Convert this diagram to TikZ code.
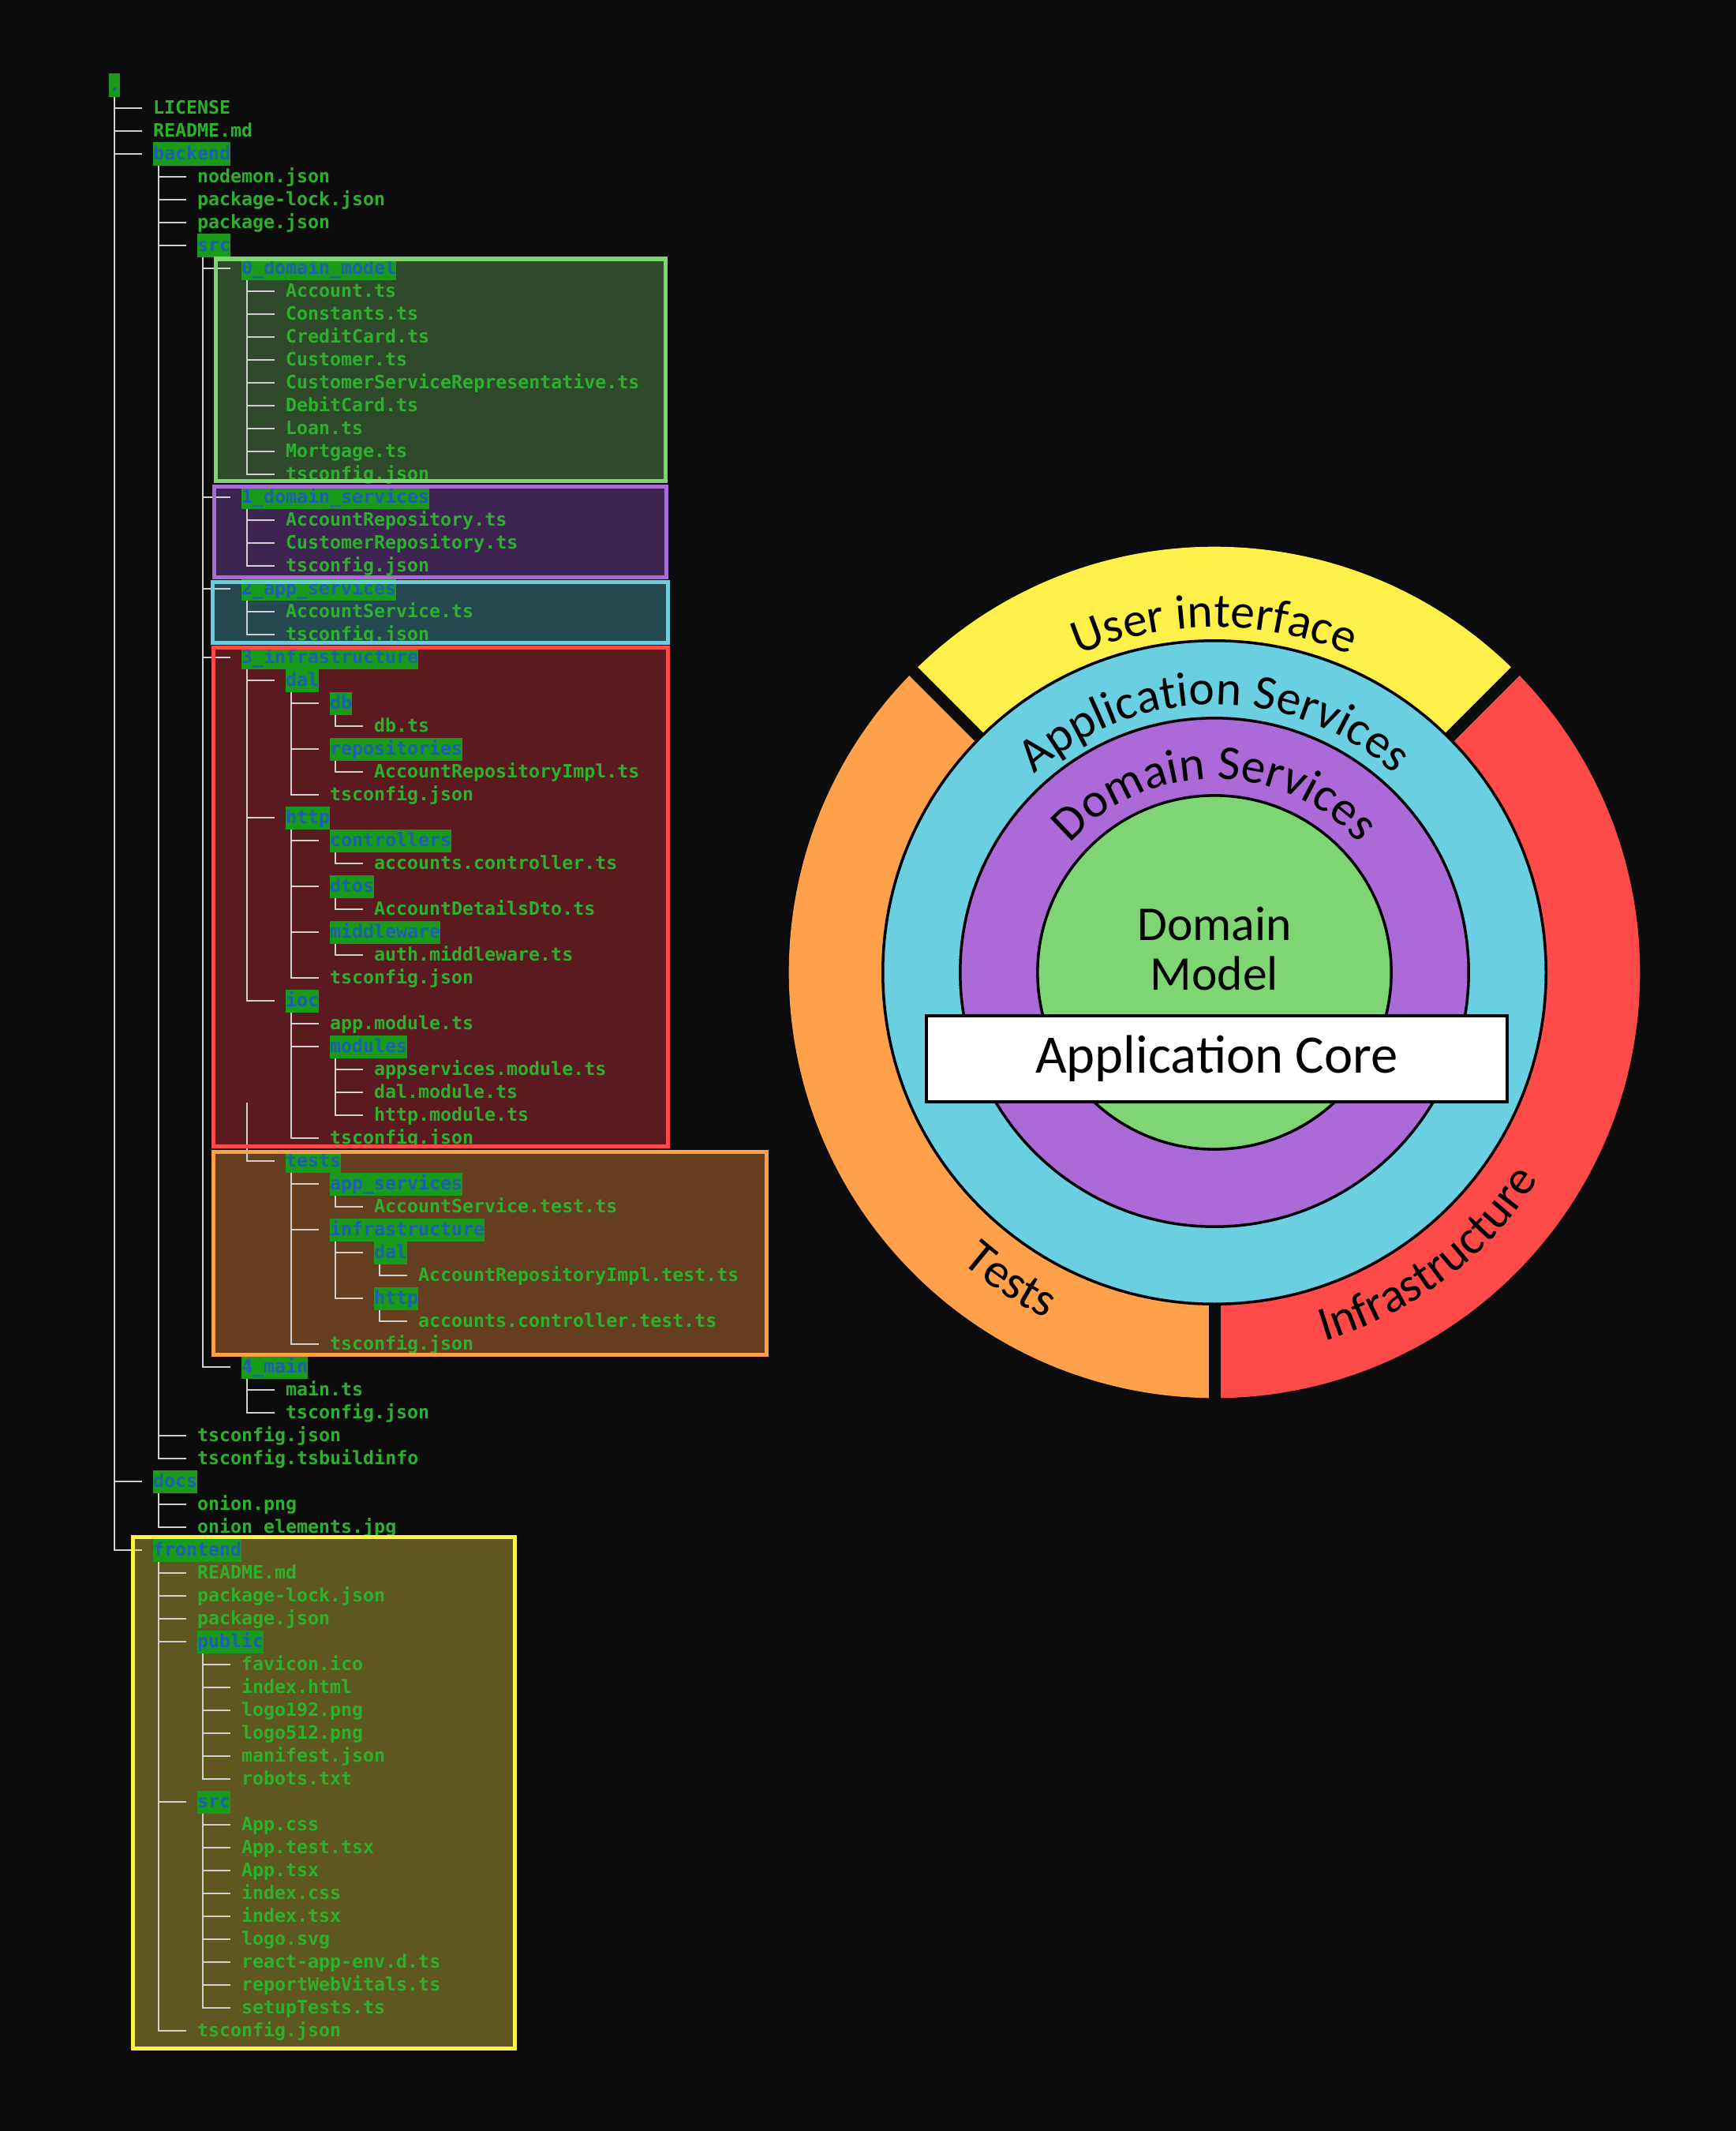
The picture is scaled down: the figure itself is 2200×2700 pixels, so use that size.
\documentclass[tikz,border=0pt]{standalone}
\usepackage{fontspec}
\setmainfont{Carlito}
\setmonofont{DejaVu Sans Mono}
\usetikzlibrary{decorations.text}

\definecolor{bg}{HTML}{0C0C0C}
\definecolor{treeline}{HTML}{D0D0D0}
\definecolor{filegreen}{HTML}{2DB02D}
\definecolor{dirbg}{HTML}{1A9A1A}
\definecolor{dirblue}{HTML}{1F5FAF}
\definecolor{dmfill}{HTML}{2E4A2B}
\definecolor{dmline}{HTML}{7ED673}
\definecolor{dsfill}{HTML}{3E2551}
\definecolor{dsline}{HTML}{A86CD8}
\definecolor{asfill}{HTML}{25494F}
\definecolor{asline}{HTML}{6CCDE0}
\definecolor{infill}{HTML}{5A1A1F}
\definecolor{infraline}{HTML}{FF4A4A}
\definecolor{tsfill}{HTML}{653E20}
\definecolor{tsline}{HTML}{FF9F48}
\definecolor{fefill}{HTML}{5E5720}
\definecolor{feline}{HTML}{FFF04A}
\definecolor{uiyellow}{HTML}{FFF04A}
\definecolor{testorange}{HTML}{FFA04A}
\definecolor{infrared}{HTML}{FF4A4A}
\definecolor{appcyan}{HTML}{6ACFE0}
\definecolor{dspurple}{HTML}{AC6AD8}
\definecolor{dmgreen}{HTML}{7FD574}

\newcommand{\treefont}{\ttfamily\bfseries\fontsize{6.62}{8}\selectfont}
\newcommand{\onionfont}{\fontsize{17.5}{18}\selectfont}

\begin{document}
\begin{tikzpicture}[x=0.01cm, y=0.01cm,
    file/.style={anchor=west, inner sep=0pt, outer sep=0pt, text height=0.22cm, text depth=0.07cm, font=\treefont, text=filegreen},
    dir/.style={file, fill=dirbg, text=dirblue},
    branch/.style={draw=treeline, line width=0.02cm, to path={([xshift=0.07cm]\tikztostart.south west) |- ([xshift=-0.14cm]\tikztotarget.west)}},
    frame/.style={line width=0.05cm},
    ring/.style={draw=black, line width=1pt},
    arctext/.style={decorate, decoration={text along path, text align=center, text={|\onionfont|#1}}}]

    \useasboundingbox (0,0) rectangle (2200,-2700);
    \fill[bg] (0,0) rectangle (2200,-2700);

    % layer boxes behind the tree
    \fill[dmfill] (273,-328) rectangle (843,-609);
    \fill[dsfill] (271,-616) rectangle (844,-731);
    \fill[asfill] (269,-737) rectangle (846,-814);
    \fill[infill] (270,-820) rectangle (846,-1452);
    \fill[tsfill] (270,-1459) rectangle (971,-1716);
    \fill[fefill] (168,-1947) rectangle (652,-2595);

    % tree
    \node (root) [dir] at (138, -108) {.};
    \node (lic) [file] at (194, -137) {LICENSE};
    \node (readme) [file] at (194, -166) {README.md};
    \node (be) [dir] at (194, -195) {backend};
    \node (nodemon) [file] at (250, -224) {nodemon.json};
    \node (bepkl) [file] at (250, -253) {package-lock.json};
    \node (bepkg) [file] at (250, -282) {package.json};
    \node (besrc) [dir] at (250, -311) {src};
    \node (dm) [dir] at (306, -340) {0\_domain\_model};
    \node (acc) [file] at (362, -369) {Account.ts};
    \node (const) [file] at (362, -398) {Constants.ts};
    \node (cc) [file] at (362, -427) {CreditCard.ts};
    \node (cust) [file] at (362, -456) {Customer.ts};
    \node (csr) [file] at (362, -485) {CustomerServiceRepresentative.ts};
    \node (dc) [file] at (362, -514) {DebitCard.ts};
    \node (loan) [file] at (362, -543) {Loan.ts};
    \node (mort) [file] at (362, -572) {Mortgage.ts};
    \node (dmts) [file] at (362, -601) {tsconfig.json};
    \node (ds) [dir] at (306, -630) {1\_domain\_services};
    \node (accrepo) [file] at (362, -659) {AccountRepository.ts};
    \node (custrepo) [file] at (362, -688) {CustomerRepository.ts};
    \node (dsts) [file] at (362, -717) {tsconfig.json};
    \node (as) [dir] at (306, -746) {2\_app\_services};
    \node (accsvc) [file] at (362, -775) {AccountService.ts};
    \node (asts) [file] at (362, -804) {tsconfig.json};
    \node (infra) [dir] at (306, -833) {3\_infrastructure};
    \node (dal) [dir] at (362, -862) {dal};
    \node (db) [dir] at (418, -891) {db};
    \node (dbts) [file] at (474, -920) {db.ts};
    \node (repos) [dir] at (418, -949) {repositories};
    \node (accrepoimpl) [file] at (474, -978) {AccountRepositoryImpl.ts};
    \node (dalts) [file] at (418, -1007) {tsconfig.json};
    \node (http) [dir] at (362, -1036) {http};
    \node (ctrl) [dir] at (418, -1065) {controllers};
    \node (accctrl) [file] at (474, -1094) {accounts.controller.ts};
    \node (dtos) [dir] at (418, -1123) {dtos};
    \node (accdto) [file] at (474, -1152) {AccountDetailsDto.ts};
    \node (mw) [dir] at (418, -1181) {middleware};
    \node (authmw) [file] at (474, -1210) {auth.middleware.ts};
    \node (httpts) [file] at (418, -1239) {tsconfig.json};
    \node (ioc) [dir] at (362, -1268) {ioc};
    \node (appmod) [file] at (418, -1297) {app.module.ts};
    \node (mods) [dir] at (418, -1326) {modules};
    \node (appsvcmod) [file] at (474, -1355) {appservices.module.ts};
    \node (dalmod) [file] at (474, -1384) {dal.module.ts};
    \node (httpmod) [file] at (474, -1413) {http.module.ts};
    \node (iocts) [file] at (418, -1442) {tsconfig.json};
    \node (tests) [dir] at (362, -1471) {tests};
    \node (tas) [dir] at (418, -1500) {app\_services};
    \node (taccsvc) [file] at (474, -1529) {AccountService.test.ts};
    \node (tinfra) [dir] at (418, -1558) {infrastructure};
    \node (tdal) [dir] at (474, -1587) {dal};
    \node (taccrepo) [file] at (530, -1616) {AccountRepositoryImpl.test.ts};
    \node (thttp) [dir] at (474, -1645) {http};
    \node (tctrl) [file] at (530, -1674) {accounts.controller.test.ts};
    \node (testsst) [file] at (418, -1703) {tsconfig.json};
    \node (main) [dir] at (306, -1732) {4\_main};
    \node (maints) [file] at (362, -1761) {main.ts};
    \node (maincfg) [file] at (362, -1790) {tsconfig.json};
    \node (bets) [file] at (250, -1819) {tsconfig.json};
    \node (bebuild) [file] at (250, -1848) {tsconfig.tsbuildinfo};
    \node (docs) [dir] at (194, -1877) {docs};
    \node (onion) [file] at (250, -1906) {onion.png};
    \node (onionel) [file] at (250, -1935) {onion\_elements.jpg};
    \node (fe) [dir] at (194, -1964) {frontend};
    \node (ferm) [file] at (250, -1993) {README.md};
    \node (fepkl) [file] at (250, -2022) {package-lock.json};
    \node (fepkg) [file] at (250, -2051) {package.json};
    \node (pub) [dir] at (250, -2080) {public};
    \node (fav) [file] at (306, -2109) {favicon.ico};
    \node (idxhtml) [file] at (306, -2138) {index.html};
    \node (logoa) [file] at (306, -2167) {logo192.png};
    \node (logob) [file] at (306, -2196) {logo512.png};
    \node (manifest) [file] at (306, -2225) {manifest.json};
    \node (robots) [file] at (306, -2254) {robots.txt};
    \node (fesrc) [dir] at (250, -2283) {src};
    \node (appcss) [file] at (306, -2312) {App.css};
    \node (apptest) [file] at (306, -2341) {App.test.tsx};
    \node (apptsx) [file] at (306, -2370) {App.tsx};
    \node (idxcss) [file] at (306, -2399) {index.css};
    \node (idxtsx) [file] at (306, -2428) {index.tsx};
    \node (logosvg) [file] at (306, -2457) {logo.svg};
    \node (raenv) [file] at (306, -2486) {react-app-env.d.ts};
    \node (rwv) [file] at (306, -2515) {reportWebVitals.ts};
    \node (setup) [file] at (306, -2544) {setupTests.ts};
    \node (fets) [file] at (250, -2573) {tsconfig.json};
    \coordinate (tstop) at (313, -1397);

    \draw (root) edge[branch] (lic) edge[branch] (readme) edge[branch] (be) edge[branch] (docs) edge[branch] (fe);
    \draw (be) edge[branch] (nodemon) edge[branch] (bepkl) edge[branch] (bepkg) edge[branch] (besrc) edge[branch] (bets) edge[branch] (bebuild);
    \draw (besrc) edge[branch] (dm) edge[branch] (ds) edge[branch] (as) edge[branch] (infra) edge[branch] (main);
    \draw (dm) edge[branch] (acc) edge[branch] (const) edge[branch] (cc) edge[branch] (cust) edge[branch] (csr) edge[branch] (dc) edge[branch] (loan) edge[branch] (mort) edge[branch] (dmts);
    \draw (ds) edge[branch] (accrepo) edge[branch] (custrepo) edge[branch] (dsts);
    \draw (as) edge[branch] (accsvc) edge[branch] (asts);
    \draw (infra) edge[branch] (dal) edge[branch] (http) edge[branch] (ioc);
    \draw (dal) edge[branch] (db) edge[branch] (repos) edge[branch] (dalts);
    \draw (db) edge[branch] (dbts);
    \draw (repos) edge[branch] (accrepoimpl);
    \draw (http) edge[branch] (ctrl) edge[branch] (dtos) edge[branch] (mw) edge[branch] (httpts);
    \draw (ctrl) edge[branch] (accctrl);
    \draw (dtos) edge[branch] (accdto);
    \draw (mw) edge[branch] (authmw);
    \draw (ioc) edge[branch] (appmod) edge[branch] (mods) edge[branch] (iocts);
    \draw (mods) edge[branch] (appsvcmod) edge[branch] (dalmod) edge[branch] (httpmod);
    \draw[treeline, line width=0.02cm] (tstop) |- ([xshift=-0.14cm]tests.west);
    \draw (tests) edge[branch] (tas) edge[branch] (tinfra) edge[branch] (testsst);
    \draw (tas) edge[branch] (taccsvc);
    \draw (tinfra) edge[branch] (tdal) edge[branch] (thttp);
    \draw (tdal) edge[branch] (taccrepo);
    \draw (thttp) edge[branch] (tctrl);
    \draw (main) edge[branch] (maints) edge[branch] (maincfg);
    \draw (docs) edge[branch] (onion) edge[branch] (onionel);
    \draw (fe) edge[branch] (ferm) edge[branch] (fepkl) edge[branch] (fepkg) edge[branch] (pub) edge[branch] (fesrc) edge[branch] (fets);
    \draw (pub) edge[branch] (fav) edge[branch] (idxhtml) edge[branch] (logoa) edge[branch] (logob) edge[branch] (manifest) edge[branch] (robots);
    \draw (fesrc) edge[branch] (appcss) edge[branch] (apptest) edge[branch] (apptsx) edge[branch] (idxcss) edge[branch] (idxtsx) edge[branch] (logosvg) edge[branch] (raenv) edge[branch] (rwv) edge[branch] (setup);

    % layer box borders
    \draw[frame, dmline] (273,-328) rectangle (843,-609);
    \draw[frame, dsline] (271,-616) rectangle (844,-731);
    \draw[frame, asline] (269,-737) rectangle (846,-814);
    \draw[frame, infraline] (270,-820) rectangle (846,-1452);
    \draw[frame, tsline] (270,-1459) rectangle (971,-1716);
    \draw[frame, feline] (168,-1947) rectangle (652,-2595);

    % onion
    \begin{scope}[shift={(1539,-1232)}]
        \fill[uiyellow] (0,0) -- (45:5.39cm) arc[start angle=45, end angle=135, radius=5.39cm] -- cycle;
        \fill[testorange] (0,0) -- (135:5.39cm) arc[start angle=135, end angle=270, radius=5.39cm] -- cycle;
        \fill[infrared] (0,0) -- (270:5.39cm) arc[start angle=270, end angle=405, radius=5.39cm] -- cycle;
        \draw[bg, line width=0.15cm] (45:4.1cm) -- (45:5.5cm);
        \draw[bg, line width=0.15cm] (135:4.1cm) -- (135:5.5cm);
        \draw[bg, line width=0.15cm] (270:4.1cm) -- (270:5.5cm);
        \draw[ring, fill=appcyan] (0,0) circle[radius=4.2cm];
        \draw[ring, fill=dspurple] (0,0) circle[radius=3.22cm];
        \draw[ring, fill=dmgreen] (0,0) circle[radius=2.24cm];

        \path[arctext={User interface}] (150:4.37cm) arc[start angle=150, end angle=30, radius=4.37cm];
        \path[arctext={Application Services}] (150:3.39cm) arc[start angle=150, end angle=30, radius=3.39cm];
        \path[arctext={Domain Services}] (165:2.45cm) arc[start angle=165, end angle=15, radius=2.45cm];
        \path[arctext={Tests}] (200:4.87cm) arc[start angle=200, end angle=273, radius=4.87cm];
        \path[arctext={Infrastructure}] (270:4.87cm) arc[start angle=270, end angle=344, radius=4.87cm];
    \end{scope}

    \node (dmtext) [align=center, font=\onionfont] at (1539, -1202) {Domain\\Model};
    \node (core) [draw=black, line width=1pt, fill=white, minimum width=7.36cm, minimum height=1.09cm, font=\fontsize{19.5}{20}\selectfont] at (1542, -1341.5) {Application Core};
\end{tikzpicture}
\end{document}
